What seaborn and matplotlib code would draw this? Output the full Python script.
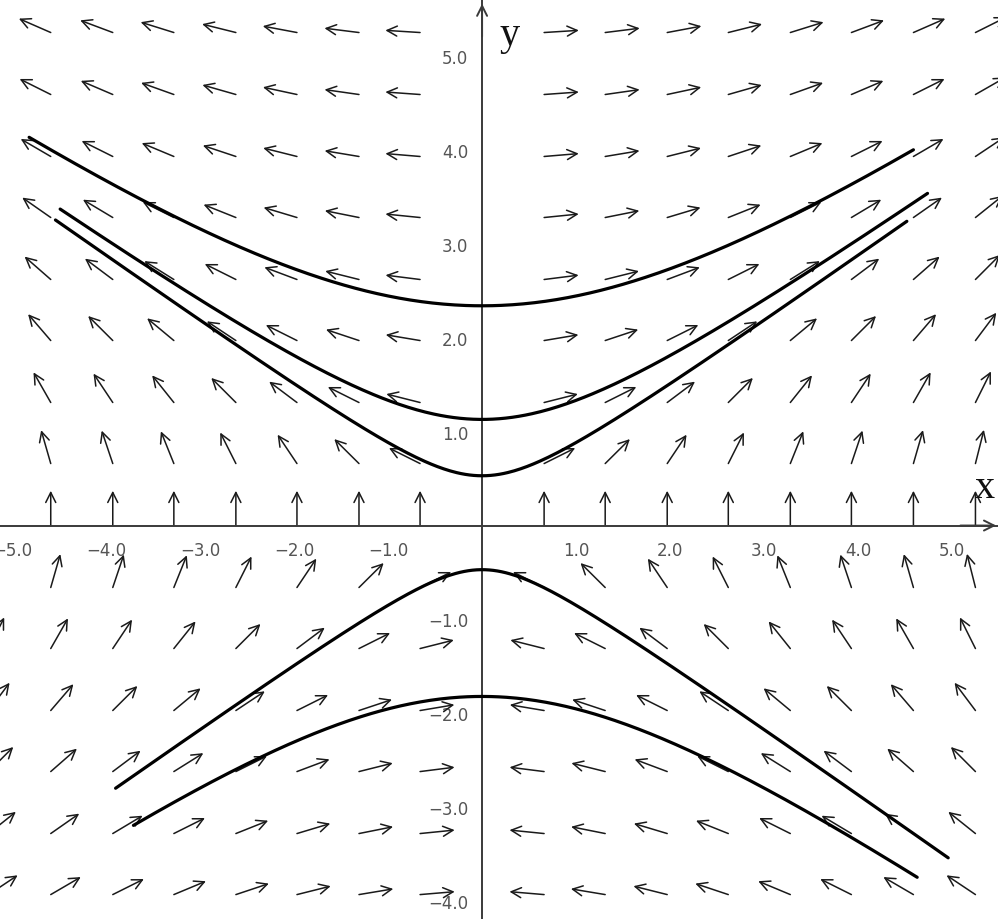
import numpy as np
import pandas as pd
import matplotlib
matplotlib.use("Agg")
import matplotlib.pyplot as plt
import seaborn as sns

# Grid on which the direction field of dy/dx = x / (2y) is sampled
grid_x = [-5.25, -4.59, -3.93, -3.28, -2.62, -1.97, -1.31, -0.66, 0.0,
          0.66, 1.31, 1.97, 2.62, 3.28, 3.93, 4.59, 5.25]
grid_y = [-5.25, -4.59, -3.93, -3.28, -2.62, -1.97, -1.31, -0.66, 0.0,
          0.66, 1.31, 1.97, 2.62, 3.28, 3.93, 4.59, 5.25]

# Solution curves: initial value y(0) and the x-interval each one covers
curve_y0 = [2.34, 1.13, 0.53, -0.47, -1.82]
curve_x_start = [-4.82, -4.49, -4.54, -3.90, -3.71]
curve_x_end = [4.59, 4.74, 4.52, 4.96, 4.63]

x_ticks = [-5.0, -4.0, -3.0, -2.0, -1.0, 1.0, 2.0, 3.0, 4.0, 5.0]
y_ticks = [-4.0, -3.0, -2.0, -1.0, 1.0, 2.0, 3.0, 4.0, 5.0]

X_LIM = (-5.13, 5.49)
Y_LIM = (-4.19, 5.607)
ARROW_LEN = 0.37

sns.set_style("white")
plt.rcParams["font.family"] = ["DejaVu Sans"]

fig = plt.figure(figsize=(9.98, 9.20), dpi=100)
ax = fig.add_axes([0, 0, 1, 1])
ax.set_xlim(*X_LIM)
ax.set_ylim(*Y_LIM)

# direction field: unit arrows along (2xy, x^2), tail at each grid point
for gx in grid_x:
    for gy in grid_y:
        u, v = 2 * gx * gy, gx ** 2
        n = np.hypot(u, v)
        if n == 0:
            continue
        ex, ey = gx + ARROW_LEN * u / n, gy + ARROW_LEN * v / n
        ax.annotate("", xy=(ex, ey), xytext=(gx, gy),
                    arrowprops=dict(arrowstyle="->,head_length=0.6,head_width=0.3",
                                    lw=1.1, color="#1a1a1a", shrinkA=0, shrinkB=0,
                                    mutation_scale=12),
                    annotation_clip=False, zorder=2)

# solution curves y^2 - x^2/2 = y0^2
rows = []
for i, (y0, xa, xb) in enumerate(zip(curve_y0, curve_x_start, curve_x_end)):
    xs = np.linspace(xa, xb, 400)
    ys = np.sign(y0) * np.sqrt(xs ** 2 / 2 + y0 ** 2)
    rows.append(pd.DataFrame({"x": xs, "y": ys, "curve": i}))
curves = pd.concat(rows, ignore_index=True)
for i, grp in curves.groupby("curve"):
    sns.lineplot(data=grp, x="x", y="y", ax=ax, color="black", lw=2.3,
                 sort=False, estimator=None, zorder=4)
ax.set_xlabel("")
ax.set_ylabel("")

# axes through the origin
for side in ("top", "right"):
    ax.spines[side].set_visible(False)
for side in ("left", "bottom"):
    ax.spines[side].set_position(("data", 0))
    ax.spines[side].set_color("#3a3a3a")
    ax.spines[side].set_linewidth(1.4)
    ax.spines[side].set_zorder(3)

ax.set_xticks(x_ticks)
ax.set_yticks(y_ticks)
ax.set_xticklabels([f"{t:.1f}".replace("-", "\u2212") for t in x_ticks])
ax.set_yticklabels([f"{t:.1f}".replace("-", "\u2212") for t in y_ticks])
ax.tick_params(axis="both", direction="inout", length=14, width=1.2,
               color="#3a3a3a", labelsize=12, labelcolor="#555555")
ax.tick_params(axis="x", pad=4)
ax.tick_params(axis="y", pad=3)

# arrowheads at the positive ends of the axes
ax.annotate("", xy=(X_LIM[1] - 0.02, 0), xytext=(X_LIM[1] - 0.4, 0),
            arrowprops=dict(arrowstyle="->,head_length=0.6,head_width=0.3",
                            lw=1.4, color="#3a3a3a", shrinkA=0, shrinkB=0,
                            mutation_scale=12), annotation_clip=False)
ax.annotate("", xy=(0, Y_LIM[1] - 0.05), xytext=(0, Y_LIM[1] - 0.4),
            arrowprops=dict(arrowstyle="->,head_length=0.6,head_width=0.3",
                            lw=1.4, color="#3a3a3a", shrinkA=0, shrinkB=0,
                            mutation_scale=12), annotation_clip=False)

ax.text(0.19, 5.13, "y", family="Liberation Serif", fontsize=29,
        ha="left", va="baseline", color="#111111")
ax.text(5.245, 0.30, "x", family="Liberation Serif", fontsize=29,
        ha="left", va="baseline", color="#111111")

fig.savefig("out.png", dpi=100, facecolor="white")
